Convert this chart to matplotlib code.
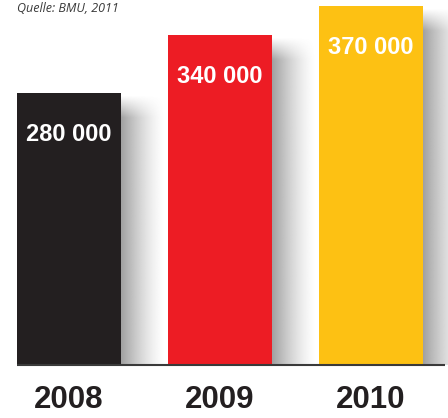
import numpy as np
import matplotlib
matplotlib.use('Agg')
import matplotlib.pyplot as plt

jahre = ['2008', '2009', '2010']
werte = [280000, 340000, 370000]
beschriftung = ['280 000', '340 000', '370 000']
farben = ['#231f20', '#ed1c24', '#fdc113']

fig = plt.figure(figsize=(4.48, 4.18), dpi=100)
ax = fig.add_axes([0, 0, 1, 1])

px = 1 / 151.0          # one pixel in x data units
py = 1000 / 0.97        # one pixel in y data units
breite = 104 * px
xs = np.arange(len(werte))

ax.set_xlim(-69 * px, 2 + 77 * px)
ax.set_ylim(-53 * py, 365 * py)

# Schatten rechts neben den Balken
sw = 44 * px
n = 200
gx = np.linspace(0, 1, n)
for x, w in zip(xs, werte):
    top = w - 2 * py
    hpx = top / py
    gy = np.linspace(0, hpx, n)          # Pixel von oben
    GX, GY = np.meshgrid(gx, gy)
    alpha = (1 - GX) ** 1.4 * np.clip(GY / 22.0, 0, 1) * 0.62
    rgba = np.zeros((n, n, 4))
    rgba[..., :3] = 0.40
    rgba[..., 3] = alpha
    ax.imshow(rgba, extent=(x + breite / 2, x + breite / 2 + sw, 0, top),
              origin='upper', aspect='auto', zorder=1, interpolation='bilinear')

ax.bar(xs, werte, width=breite, color=farben, zorder=2)

for x, w, t in zip(xs, werte, beschriftung):
    ax.text(x, w - 41 * py, t, color='white', fontsize=17, fontweight='bold',
            family='Liberation Sans', ha='center', va='center', zorder=3)

for x, j in zip(xs, jahre):
    ax.text(x, -35 * py, j, color='#231f20', fontsize=22.5, fontweight='bold',
            family='Liberation Sans', ha='center', va='center')

ax.plot([-52 * px, 2 + 74 * px], [0, 0], color='#3a3a3a', lw=1.5, zorder=4,
        solid_capstyle='butt')

ax.text(-52 * px, 357 * py, 'Quelle: BMU, 2011', color='#3a3a3a', fontsize=9,
        style='italic', family='Open Sans', ha='left', va='center')

ax.axis('off')
plt.savefig('out.png', dpi=100)
